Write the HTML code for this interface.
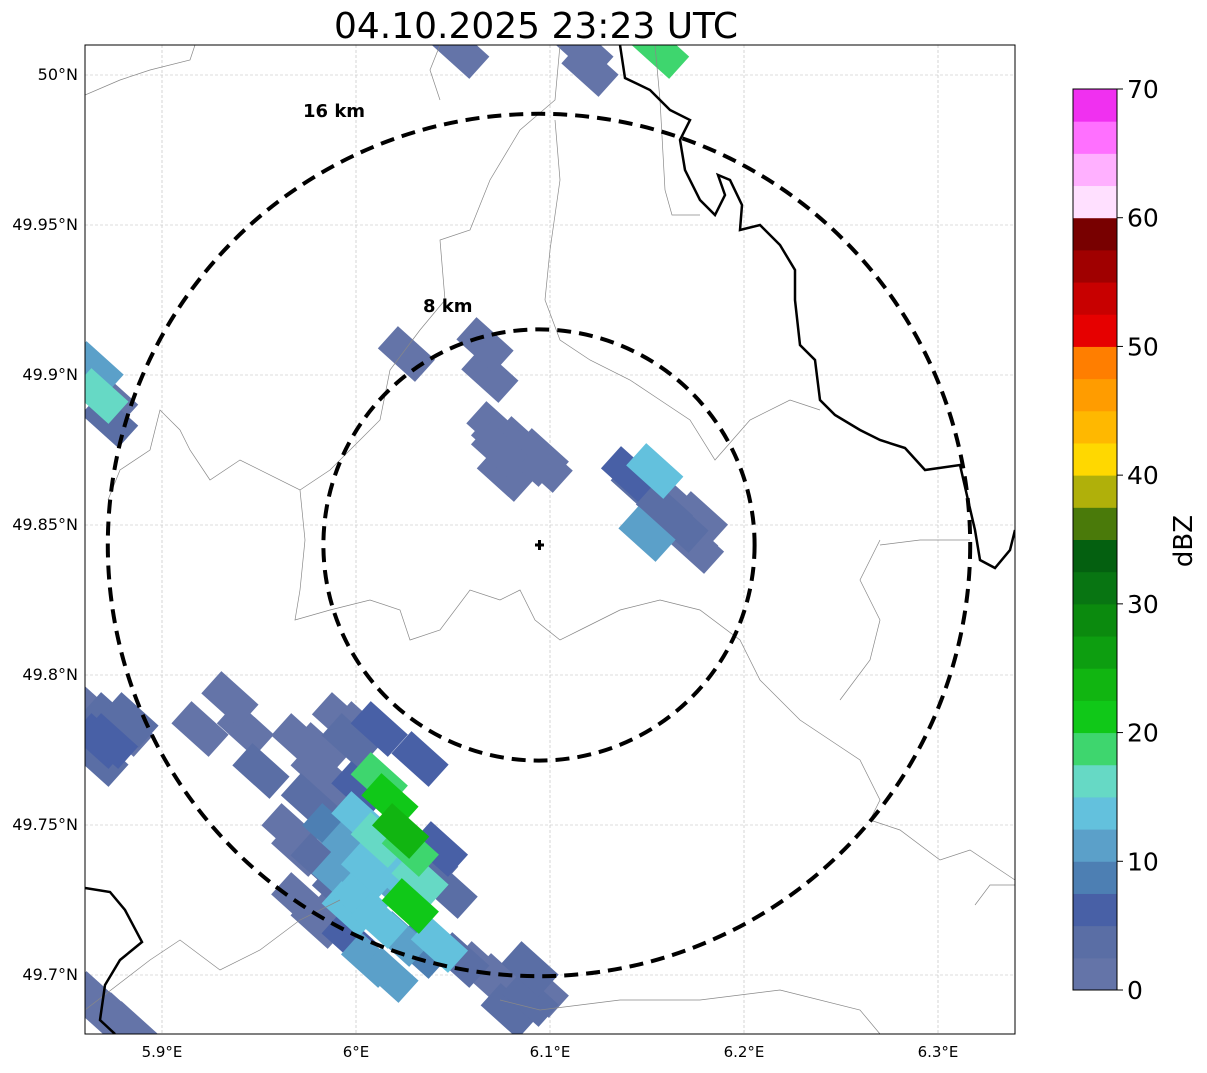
<!DOCTYPE html>
<html><head><meta charset="utf-8"><style>
body{margin:0;background:#fff;font-family:"DejaVu Sans",sans-serif}
</style></head><body>
<svg id="s" width="1207" height="1069" xmlns="http://www.w3.org/2000/svg" font-family="DejaVu Sans, sans-serif">
<rect width="1207" height="1069" fill="#fff"/>
<text x="536" y="38" font-size="36" text-anchor="middle">04.10.2025 23:23 UTC</text>
<defs><clipPath id="cp"><rect x="85" y="45" width="930" height="989"/></clipPath></defs>
<g id="grid"></g>
<g clip-path="url(#cp)">
<g id="cells"></g>
<g fill="none" stroke="#888" stroke-width="0.7">
<path d="M85,95 L120,80 L150,70 L190,60 L195,45"/>
<path d="M440,45 L430,70 L440,100"/>
<path d="M560,45 L555,100 L520,130 L490,180 L470,230 L440,240 L445,300 L420,330 L390,370 L380,420 L360,440 L330,470 L300,490 L240,460 L210,480 L190,450 L180,430 L160,410 L150,450 L120,470 L108,500"/>
<path d="M555,120 L560,180 L550,250 L545,300 L560,340 L590,360 L630,380 L660,400 L690,420 L715,460 L750,420 L790,400 L820,410"/>
<path d="M300,490 L305,540 L300,590 L295,620 L330,610 L370,600 L400,610 L410,640 L440,630 L470,590 L500,600 L520,590 L535,620 L560,640 L580,630 L620,610 L660,600 L700,610 L740,640 L760,680 L800,720 L830,740 L860,760 L880,800 L870,820 L900,830 L940,860 L970,850 L1015,880"/>
<path d="M880,540 L860,580 L880,620 L870,660 L840,700"/>
<path d="M970,540 L920,540 L880,545"/>
<path d="M85,1010 L150,960 L180,940 L220,970 L260,950 L300,920 L340,900"/>
<path d="M500,1000 L540,1010 L620,1000 L700,1000 L780,990 L860,1010 L880,1034"/>
<path d="M1015,885 L990,885 L975,905"/>
<path d="M655,45 L660,100 L665,190 L672,215 L700,215"/>
</g>
<g fill="none" stroke="#000" stroke-width="2.5">
<path d="M620,45 L625,78 L650,90 L670,110 L690,120 L680,140 L685,170 L700,200 L715,215 L725,195 L718,175 L730,180 L742,205 L740,230 L760,225 L780,245 L795,270 L795,300 L800,345 L815,360 L820,400 L835,415 L860,430 L880,440 L905,448 L925,470 L960,465 L968,500 L975,530 L980,560 L995,568 L1010,550 L1015,530"/>
<path d="M85,888 L110,892 L125,910 L142,942 L120,960 L105,985 L100,1020 L115,1034"/>
</g>
</g>
<rect x="85" y="45" width="930" height="989" fill="none" stroke="#000" stroke-width="1"/>
<g id="rings"></g>
<text x="303" y="117" font-size="18" font-weight="bold">16 km</text>
<text x="423" y="312" font-size="18" font-weight="bold">8 km</text>
<g><line x1="535" y1="545" x2="544" y2="545" stroke="#000" stroke-width="3"/><line x1="539.5" y1="540" x2="539.5" y2="550" stroke="#000" stroke-width="3"/></g>
<g id="axes"></g>
<g id="cbar"></g>
<text x="1192" y="541" font-size="26" text-anchor="middle" transform="rotate(-90 1192 541)">dBZ</text>
</svg>
<script>
const lonTicks=[5.9,6.0,6.1,6.2,6.3];
const lonLabels=["5.9°E","6°E","6.1°E","6.2°E","6.3°E"];
const latTicks=[50,49.95,49.9,49.85,49.8,49.75,49.7];
const latLabels=["50°N","49.95°N","49.9°N","49.85°N","49.8°N","49.75°N","49.7°N"];
const ringKm=[8,16];
const cbTicks=[0,10,20,30,40,50,60,70];
const cbColors=["#6474a8","#5a6ea5","#4860a6","#4d7fb3","#5ba0c9","#63c1dd","#66d9c5","#3ed66e","#10c818","#11b511","#0d9e10","#0b8a0e","#087512","#046010","#4a7a0a","#b0b00a","#ffd800","#ffb800","#ff9c00","#ff7e00","#e60000","#c80000","#a00000","#780000","#ffe0ff","#ffb0ff","#ff70ff","#f030f0"];
const cellLon=[6.074,6.0845,6.095,6.077,6.097,6.069,6.0665,6.026,6.154,6.146,6.159,6.172,6.150,6.177,5.868,5.873,5.8655,6.054,6.118,6.157,6.1206,5.873,5.868,5.881,5.935,5.943,5.951,5.9196,5.981,5.997,6.012,5.987,6.002,6.012,6.0175,6.023,6.028,6.0175,6.033,6.028,6.007,5.992,5.997,6.043,5.981,5.971,6.038,6.033,6.074,6.0845,6.0897,6.079,5.868,5.8835,6.002,6.012,6.023,
5.971,5.981,5.992,6.002,5.976,5.987,5.997,5.981,5.992,6.002,6.012,6.023,6.033,5.971,5.966,6.048,6.043,6.054,6.064,6.095,6.0897,6.007,6.0175,5.997,5.987,5.8629,5.873,5.8835,5.868,5.873,5.8655,5.878,6.0716,6.0897,6.074,6.141,6.162,6.167,6.175];
const cellLat=[49.878,49.877,49.873,49.867,49.87,49.9,49.91,49.907,49.868,49.863,49.855,49.845,49.847,49.852,49.893,49.885,49.902,50.008,50.008,50.008,50.002,49.785,49.778,49.782,49.792,49.782,49.768,49.782,49.775,49.778,49.782,49.758,49.762,49.765,49.758,49.748,49.742,49.735,49.732,49.723,49.735,49.728,49.722,49.71,49.718,49.742,49.738,49.772,49.698,49.695,49.702,49.688,49.688,49.682,49.752,49.745,49.728,
49.778,49.768,49.785,49.782,49.758,49.748,49.742,49.738,49.732,49.725,49.718,49.712,49.708,49.725,49.748,49.728,49.742,49.705,49.702,49.695,49.692,49.705,49.7,49.712,49.718,49.788,49.778,49.785,49.772,49.892,49.692,49.685,49.882,49.872,49.875,49.867,49.858,49.85,49.843];
const cellDbz=[1,1,2,1,2,1,1,1,13,3,3,2,11,2,15,3,11,2,2,18,2,3,6,2,2,1,3,1,2,3,6,2,7,18,21,23,18,14,16,21,14,3,13,13,2,1,3,5,2,2,4,3,2,2,14,16,12,
1,2,1,2,4,8,11,4,11,13,13,12,9,2,2,3,6,4,2,1,3,10,12,6,2,1,6,3,4,1,2,1,1,1,2,5,2,3,1];
const X=lon=>162+(lon-5.9)*1940, Y=lat=>75+(50-lat)*3000;
const NS="http://www.w3.org/2000/svg";
function mk(tag,at,p){const e=document.createElementNS(NS,tag);for(const k in at)e.setAttribute(k,at[k]);p.appendChild(e);return e;}
const grid=document.getElementById('grid'),axes=document.getElementById('axes');
lonTicks.forEach((v,i)=>{const x=X(v);
 const l=mk('line',{x1:x,y1:45,x2:x,y2:1034,stroke:'#bbb','stroke-width':0.6,'stroke-dasharray':'3,2'},grid);
 
 const t=mk('text',{x:x,y:1057,'font-size':15,'text-anchor':'middle'},axes);t.textContent=lonLabels[i];
 });
latTicks.forEach((v,i)=>{const y=Y(v);
 const l=mk('line',{x1:85,y1:y,x2:1015,y2:y,stroke:'#bbb','stroke-width':0.6,'stroke-dasharray':'3,2'},grid);
 
 const t=mk('text',{x:78,y:y+5,'font-size':16,'text-anchor':'end'},axes);t.textContent=latLabels[i];
 });
const cells=document.getElementById('cells');
function col(d){return cbColors[Math.max(0,Math.min(27,Math.floor(d/2.5)))];}
const order=cellDbz.map((d,i)=>i).sort((a,b)=>cellDbz[a]-cellDbz[b]);
order.forEach(i=>{const x=X(cellLon[i]),y=Y(cellLat[i]);
 const r=mk('rect',{x:x-25,y:y-15,width:50,height:30,fill:col(cellDbz[i]),transform:`rotate(42 ${x} ${y})`},cells);
 });
const rings=document.getElementById('rings');
ringKm.forEach(k=>{const c=mk('circle',{cx:539,cy:545,r:k*26.95,fill:'none',stroke:'#000','stroke-width':4,'stroke-dasharray':'14,8'},rings);
 });
const cb=document.getElementById('cbar');const cy0=990,cy1=89,bh=(cy0-cy1)/cbColors.length;
cbColors.forEach((c,i)=>{const r=mk('rect',{x:1073,y:cy0-(i+1)*bh,width:44,height:bh+0.5,fill:c},cb);
 });
mk('rect',{x:1073,y:cy1,width:44,height:cy0-cy1,fill:'none',stroke:'#000','stroke-width':1},cb);
cbTicks.forEach(v=>{const y=cy0-(v/70)*(cy0-cy1);
 mk('line',{x1:1117,y1:y,x2:1123,y2:y,stroke:'#000'},cb);
 const t=mk('text',{x:1127,y:y+9,'font-size':25},cb);t.textContent=v;
 });
</script>
</body></html>
